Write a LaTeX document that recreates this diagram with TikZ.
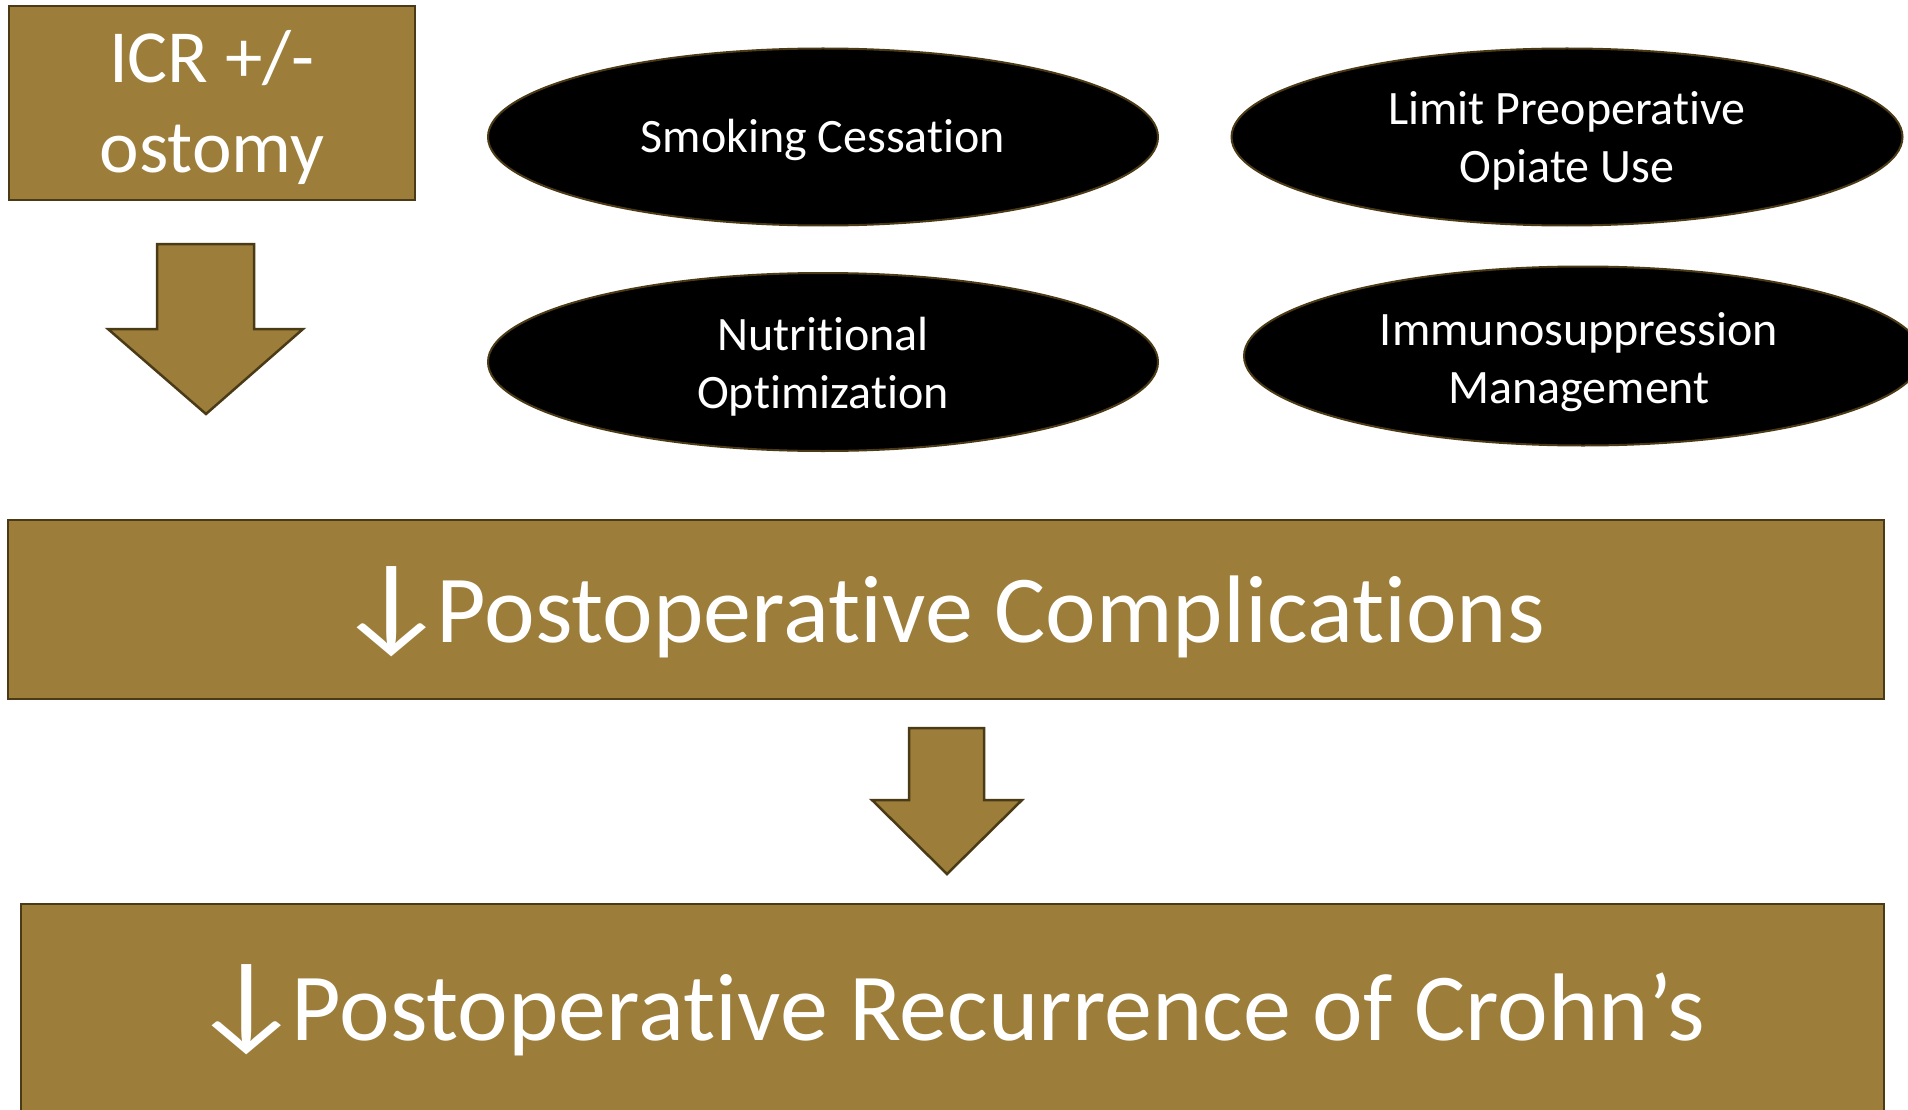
\documentclass[tikz,border=0pt]{standalone}
\usepackage{fontspec}
\setmainfont[Ligatures=NoCommon]{Carlito}
\usetikzlibrary{shapes.geometric}
\definecolor{gold}{HTML}{9C7E3A}
\definecolor{edge}{HTML}{4A3A16}
\newcommand{\dnarrow}{\raisebox{3pt}{\fontsize{108}{110}\selectfont\scalebox{1.19}[1]{↓}}\kern-13pt}
\tikzset{
  goldbox/.style={draw=edge, line width=2.5pt, fill=gold, inner sep=0pt, text=white},
  oval/.style={ellipse, draw=edge, line width=2pt, fill=black, inner sep=0pt},
  ovaltext/.style={text=white, align=center, inner sep=0pt, font=\fontsize{48}{58}\selectfont},
  bigarrow/.style={draw=edge, line width=2.5pt, fill=gold, line join=miter},
  bigtext/.style={text=white, font=\fontsize{96}{110}\selectfont, anchor=base west, inner sep=0pt}
}
\begin{document}
\begin{tikzpicture}[x=1pt,y=-1pt]
\useasboundingbox (0,0) rectangle (1908,1110);
\clip (0,0) rectangle (1908,1110);
% top-left box
\node[goldbox, minimum width=406pt, minimum height=194pt] (icr) at (212,103) {};
\node[text=white, align=center, font=\fontsize{75}{90}\selectfont, anchor=base] (icrtxt) at (212,173)
  {ICR +/-\\ostomy};
% arrow 1
\draw[bigarrow] (157,244) -- (254,244) -- (254,329) -- (303,329) -- (206,414)
  -- (108,329) -- (157,329) -- cycle;
% ellipses
\node[oval, minimum width=670pt, minimum height=177pt] (smoke) at (823,137) {};
\node[ovaltext] (smoketxt) at ([yshift=-3pt]smoke.center) {Smoking Cessation};
\node[oval, minimum width=671pt, minimum height=177pt] (opiate) at (1567,137) {};
\node[ovaltext] (opiatetxt) at ([yshift=-4pt]opiate.center) {Limit Preoperative\\Opiate Use};
\node[oval, minimum width=670pt, minimum height=178pt] (nutri) at (823,362) {};
\node[ovaltext] (nutritxt) at ([yshift=-5pt]nutri.center) {Nutritional\\Optimization};
\node[oval, minimum width=678pt, minimum height=179pt] (immuno) at (1583,356) {};
\node[ovaltext] (immunotxt) at ([xshift=-4pt,yshift=-6pt]immuno.center) {Immunosuppression\\Management};
% big box 1
\node[goldbox, minimum width=1876pt, minimum height=179pt] (comp) at (946,609.5) {};
\node[bigtext] (comptxt) at (333.4,642) {\dnarrow Postoperative Complications};
% arrow 2
\draw[bigarrow] (909,728) -- (984,728) -- (984,800) -- (1022,800) -- (947,874)
  -- (872,800) -- (909,800) -- cycle;
% big box 2
\node[goldbox, minimum width=1863pt, minimum height=260pt] (rec) at (952.5,1034) {};
\node[bigtext] (rectxt) at (188.4,1040) {\dnarrow Postoperative Recurrence of Crohn’s};
\end{tikzpicture}
\end{document}
